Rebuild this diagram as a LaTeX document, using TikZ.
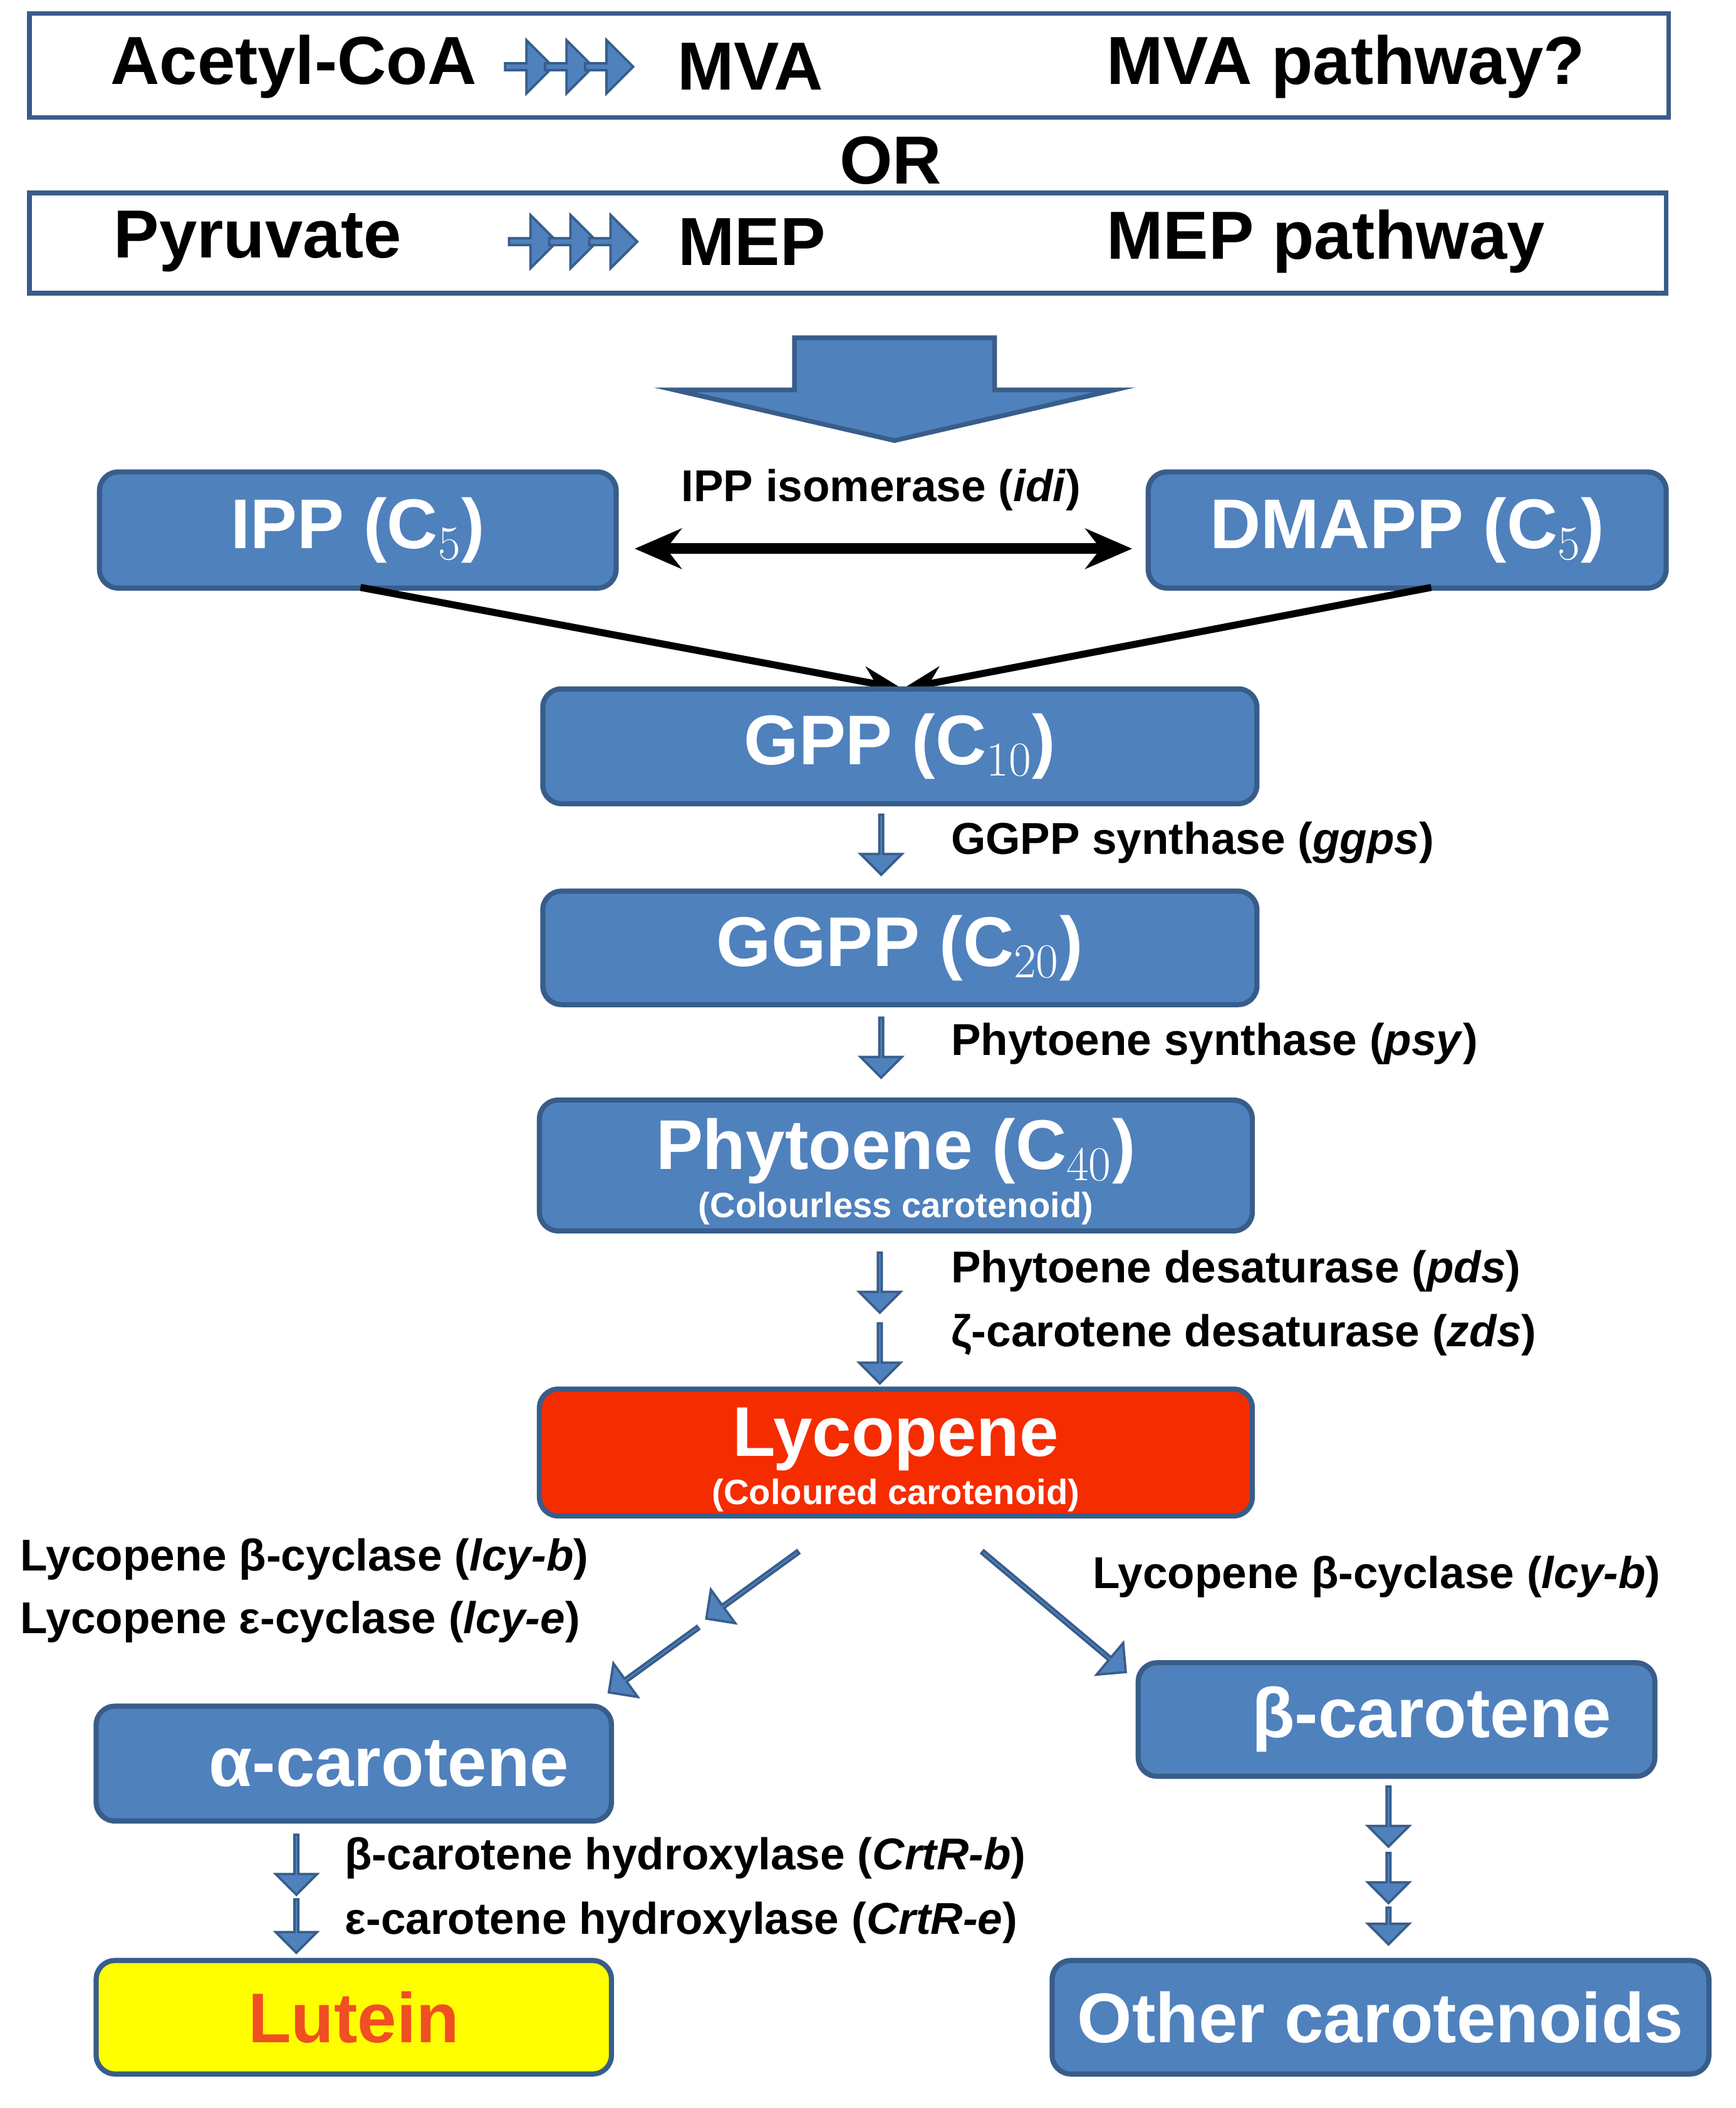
\documentclass[tikz,border=0pt]{standalone}
\usepackage{fontspec}
\setmainfont{Liberation Sans}
\usetikzlibrary{shapes.arrows,arrows.meta}
\definecolor{bl}{HTML}{4F81BD}
\definecolor{bd}{HTML}{385D8A}
\definecolor{lyc}{HTML}{F52C00}
\definecolor{lut}{HTML}{FFFF00}
\definecolor{lutt}{HTML}{F04E23}
\tikzset{
 box/.style={draw=bd,fill=bl,line width=2.2pt,rounded corners=0.28cm,text=white,font=\fontsize{30}{32}\selectfont\bfseries,align=center,inner sep=0pt},
 frame/.style={draw=bd,line width=2pt,fill=white,inner sep=0pt},
 big/.style={font=\fontsize{29}{31}\selectfont\bfseries},
 lab/.style={font=\fontsize{19}{21}\selectfont\bfseries,anchor=west,inner sep=0pt},
 barr/.style={single arrow,draw=bd,fill=bl,line width=1pt,single arrow head extend=0.17cm,minimum width=0.62cm,inner sep=0pt,single arrow tip angle=90},
 down/.style={barr,shape border rotate=270,minimum height=0.9cm},
 rarr/.style={single arrow,draw=bd,fill=bl,line width=1pt,minimum width=0.8cm,minimum height=0.72cm,single arrow head extend=0.12cm,inner sep=0pt},
 con/.style={line width=3pt,-{Stealth[length=0.6cm,width=0.45cm]}},
}
\begin{document}
\begin{tikzpicture}[x=0.02cm,y=-0.02cm]
\useasboundingbox (0,0) rectangle (1300,1579);
% top boxes
\node[frame,minimum width=24.56cm,minimum height=1.56cm] (b1) at (636,49) {};
\node[big] (acoa) at (220,50) {Acetyl-CoA};
\node[rarr] (a1) at (395,50) {};
\node[rarr] (a2) at (425,50) {};
\node[rarr] (a3) at (455,50) {};
\node[big] (mva) at (562,50) {MVA};
\node[big] (mvap) at (1008,50) {MVA pathway?};
\node[big] (or) at (667,120) {OR};
\node[frame,minimum width=24.52cm,minimum height=1.5cm] (b2) at (635,182) {};
\node[big] (pyr) at (193,181) {Pyruvate};
\node[rarr] (a4) at (398,181) {};
\node[rarr] (a5) at (428,181) {};
\node[rarr] (a6) at (458,181) {};
\node[big] (mep) at (563,181) {MEP};
\node[big] (mepp) at (993,181) {MEP pathway};
% big arrow
\draw[draw=bd,fill=bl,line width=2pt] (595,253) -- (745,253) -- (745,292) -- (835,292) -- (670,330) -- (505,292) -- (595,292) -- cycle;
% IPP / DMAPP
\node[box,minimum width=7.74cm,minimum height=1.74cm] (ipp) at (268,397) {IPP (C$_5$)};
\node[box,minimum width=7.76cm,minimum height=1.74cm] (dmapp) at (1054,397) {DMAPP (C$_5$)};
\node[lab,anchor=center] (idi) at (660,367) {IPP isomerase (\textit{idi})};
\draw[line width=4.5pt,{Stealth[length=0.7cm,width=0.6cm]}-{Stealth[length=0.7cm,width=0.6cm]}] (ipp.east)++(12,14) coordinate (c1) -- (848,411) coordinate (c2);
\coordinate (g1) at (676,516);
\draw[con] (270,440) -- (g1);
\draw[con] (1072,440) -- (g1);
% chain
\node[box,minimum width=10.7cm,minimum height=1.72cm] (gpp) at (674,559) {GPP (C$_{10}$)};
\node[down] (d1) at (660,632) {};
\node[lab] (l1) at (712,631) {GGPP synthase (\textit{ggps})};
\node[box,minimum width=10.7cm,minimum height=1.7cm] (ggpp) at (674,710) {GGPP (C$_{20}$)};
\node[down] (d2) at (660,784) {};
\node[lab] (l2) at (712,782) {Phytoene synthase (\textit{psy})};
\node[box,minimum width=10.68cm,minimum height=1.96cm] (phy) at (671,873) {};
\node[font=\fontsize{30}{32}\selectfont\bfseries,text=white] (phyt) at (671,862) {Phytoene (C$_{40}$)};
\node[font=\fontsize{15}{17}\selectfont\bfseries,text=white] (phys) at (671,905) {(Colourless carotenoid)};
\node[down] (d3) at (659,960) {};
\node[down] (d4) at (659,1013) {};
\node[lab] (l3) at (712,952) {Phytoene desaturase (\textit{pds})};
\node[lab] (l4) at (712,1000) {ζ-carotene desaturase (\textit{zds})};
\node[box,fill=lyc,minimum width=10.68cm,minimum height=1.9cm] (lyc) at (671,1088) {};
\node[font=\fontsize{30}{32}\selectfont\bfseries,text=white] (lyct) at (671,1078) {Lycopene};
\node[font=\fontsize{15}{17}\selectfont\bfseries,text=white] (lycs) at (671,1120) {(Coloured carotenoid)};
\node[lab] (l5) at (15,1168) {Lycopene β-cyclase (\textit{lcy-b})};
\node[lab] (l6) at (15,1215) {Lycopene ε-cyclase (\textit{lcy-e})};
\node[lab] (l7) at (818,1181) {Lycopene β-cyclase (\textit{lcy-b})};
\node[barr,rotate=216,minimum height=1.7cm] (dl1) at (564,1187) {};
\node[barr,rotate=216,minimum height=1.65cm] (dl2) at (490,1243) {};
\node[barr,rotate=-40,minimum height=2.8cm] (dr) at (789,1207) {};
\node[box,minimum width=7.72cm,minimum height=1.72cm] (alpha) at (265,1321) {\quad α-carotene};
\node[box,minimum width=7.74cm,minimum height=1.7cm] (beta) at (1046,1288) {\quad β-carotene};
\node[down] (d5) at (222,1396) {};
\node[down,minimum height=0.8cm] (d6) at (222,1442) {};
\node[lab] (l8) at (258,1392) {β-carotene hydroxylase (\textit{CrtR-b})};
\node[lab] (l9) at (258,1440) {ε-carotene hydroxylase (\textit{CrtR-e})};
\node[box,fill=lut,text=lutt,minimum width=7.72cm,minimum height=1.7cm] (lutein) at (265,1511) {Lutein};
\node[down,minimum height=0.9cm] (d7) at (1040,1360) {};
\node[down,minimum height=0.75cm] (d8) at (1040,1406) {};
\node[down,minimum height=0.55cm] (d9) at (1040,1442) {};
\node[box,minimum width=9.84cm,minimum height=1.7cm] (other) at (1034,1511) {Other carotenoids};
\end{tikzpicture}
\end{document}
